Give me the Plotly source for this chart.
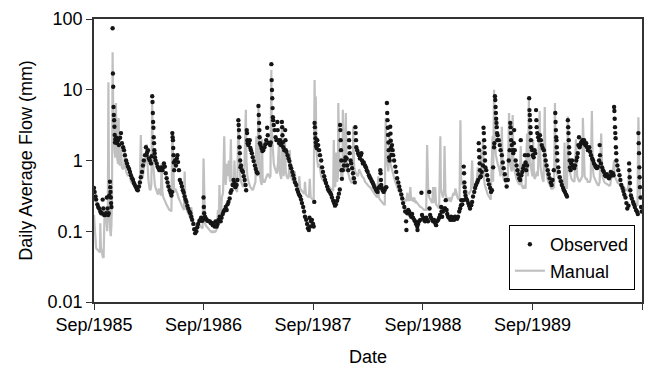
import pandas as pd
import plotly.graph_objects as go

START = "1985-09-01"

# Observed daily flow (mm): day offset from 1 Sep 1985, value
obs_day = [
    0, 2, 5, 7, 11, 14, 17, 21, 24, 27,
    29, 31, 34, 37, 40, 43, 45, 47, 49, 51,
    53, 54, 55, 56, 57, 58, 62, 63, 64, 65,
    66, 67, 68, 69, 70, 71, 74, 77, 80, 83,
    87, 90, 93, 97, 100, 103, 107, 110, 113, 117,
    120, 123, 127, 130, 133, 136, 140, 143, 146, 150,
    153, 156, 160, 163, 166, 170, 173, 175, 177, 180,
    183, 186, 190, 192, 194, 195, 196, 197, 198, 199,
    200, 201, 202, 203, 205, 209, 212, 215, 218, 221,
    224, 228, 231, 233, 236, 239, 242, 245, 248, 252,
    255, 258, 260, 261, 262, 263, 264, 265, 266, 267,
    270, 273, 276, 278, 280, 283, 286, 290, 293, 296,
    299, 302, 305, 308, 311, 314, 318, 321, 324, 327,
    331, 334, 337, 341, 344, 347, 351, 354, 357, 360,
    363, 365, 366, 367, 370, 373, 376, 379, 383, 386,
    389, 393, 396, 399, 402, 405, 409, 412, 415, 419,
    422, 425, 429, 432, 435, 439, 442, 445, 448, 452,
    455, 458, 462, 465, 468, 471, 475, 478, 481, 482,
    483, 484, 485, 486, 487, 488, 490, 493, 496, 499,
    502, 505, 507, 509, 510, 511, 512, 514, 516, 519,
    521, 523, 526, 529, 532, 536, 539, 542, 545, 548,
    549, 550, 551, 552, 553, 555, 558, 561, 564, 568,
    571, 574, 577, 579, 581, 584, 587, 589, 591, 592,
    593, 594, 595, 596, 597, 599, 602, 605, 608, 611,
    612, 614, 617, 620, 623, 626, 627, 628, 629, 631,
    634, 637, 638, 639, 641, 645, 648, 651, 654, 657,
    661, 664, 667, 670, 674, 677, 680, 683, 687, 690,
    693, 697, 700, 703, 707, 710, 713, 716, 718, 720,
    723, 726, 730, 732, 734, 735, 736, 737, 738, 739,
    740, 742, 744, 747, 750, 753, 757, 760, 763, 767,
    770, 773, 777, 780, 783, 787, 790, 793, 797, 800,
    803, 806, 810, 813, 816, 819, 820, 821, 822, 823,
    824, 825, 826, 829, 833, 836, 838, 842, 844, 847,
    849, 850, 851, 852, 855, 857, 860, 863, 866, 869,
    871, 872, 873, 874, 877, 880, 883, 886, 889, 891,
    893, 896, 899, 903, 906, 909, 912, 916, 919, 922,
    926, 929, 932, 935, 939, 942, 945, 949, 952, 954,
    955, 956, 957, 959, 962, 965, 968, 971, 974, 976,
    977, 978, 979, 980, 981, 982, 983, 985, 987, 988,
    989, 990, 991, 993, 995, 997, 1000, 1004, 1007, 1010,
    1014, 1017, 1020, 1024, 1027, 1030, 1034, 1037, 1040, 1041,
    1044, 1047, 1050, 1054, 1057, 1060, 1063, 1067, 1070, 1073,
    1077, 1078, 1080, 1083, 1087, 1091, 1093, 1097, 1100, 1103,
    1107, 1110, 1113, 1117, 1118, 1120, 1123, 1127, 1130, 1133,
    1137, 1140, 1143, 1147, 1150, 1153, 1157, 1158, 1160, 1163,
    1167, 1170, 1172, 1175, 1177, 1180, 1183, 1187, 1190, 1193,
    1197, 1200, 1203, 1207, 1210, 1213, 1217, 1220, 1223, 1224,
    1227, 1230, 1232, 1233, 1234, 1235, 1236, 1238, 1240, 1243,
    1247, 1250, 1253, 1257, 1260, 1263, 1267, 1270, 1273, 1277,
    1280, 1282, 1283, 1284, 1285, 1286, 1287, 1289, 1292, 1296,
    1298, 1299, 1300, 1301, 1302, 1303, 1304, 1307, 1310, 1313,
    1316, 1320, 1323, 1326, 1330, 1333, 1334, 1336, 1337, 1338,
    1339, 1340, 1341, 1342, 1343, 1344, 1345, 1349, 1352, 1355,
    1359, 1362, 1365, 1369, 1372, 1375, 1379, 1382, 1385, 1387,
    1388, 1389, 1390, 1392, 1395, 1397, 1399, 1400, 1402, 1405,
    1408, 1411, 1414, 1417, 1420, 1422, 1424, 1427, 1430, 1433,
    1436, 1438, 1440, 1443, 1446, 1450, 1451, 1452, 1453, 1454,
    1455, 1456, 1457, 1460, 1462, 1465, 1468, 1470, 1473, 1474,
    1475, 1477, 1480, 1483, 1486, 1489, 1492, 1495, 1499, 1502,
    1505, 1508, 1512, 1515, 1518, 1522, 1525, 1528, 1532, 1537,
    1538, 1539, 1540, 1541, 1542, 1543, 1544, 1547, 1549, 1552,
    1556, 1559, 1563, 1566, 1569, 1573, 1576, 1579, 1580, 1581,
    1582, 1583, 1584, 1585, 1586, 1588, 1590, 1593, 1596, 1600,
    1603, 1607, 1610, 1612, 1614, 1616, 1618, 1620, 1623, 1627,
    1630, 1633, 1637, 1640, 1643, 1646, 1650, 1653, 1656, 1660,
    1663, 1666, 1670, 1673, 1676, 1679, 1683, 1685, 1686, 1689,
    1693, 1696, 1699, 1703, 1706, 1709, 1712, 1716, 1719, 1722,
    1726, 1729, 1731, 1733, 1734, 1735, 1736, 1737, 1738, 1739,
    1740, 1741, 1744, 1747, 1751, 1754, 1757, 1761, 1764, 1767,
    1771, 1774, 1777, 1781, 1783, 1784, 1785, 1786, 1787, 1789,
    1792, 1796, 1799, 1802, 1806, 1809, 1812, 1814, 1815, 1816,
    1817, 1818, 1819, 1821, 1823, 1825,
]
obs_val = [
    0.41, 0.36, 0.31, 0.28, 0.24, 0.22, 0.21, 0.19, 0.18, 0.18,
    0.28, 0.21, 0.17, 0.17, 0.18, 0.30, 0.21, 0.17, 0.18, 0.32,
    0.50, 0.42, 0.36, 0.30, 0.25, 0.22, 74, 17, 11, 5.7,
    4.4, 3.7, 3.0, 2.3, 1.8, 2.0, 2.1, 1.76, 1.94, 1.65,
    2.1, 2.44, 1.76, 1.54, 1.4, 1.19, 1.0, 0.91, 0.82, 0.76,
    0.69, 0.62, 0.56, 0.53, 0.48, 0.45, 0.42, 0.39, 0.38, 0.43,
    0.49, 0.58, 0.69, 0.85, 1.0, 1.19, 1.54, 1.19, 1.3, 1.4,
    1.07, 1.0, 0.91, 1.15, 8.1, 6.7, 4.7, 3.5, 2.9, 2.13,
    1.76, 1.4, 1.27, 1.11, 1.0, 0.91, 0.82, 0.78, 0.73, 0.78,
    0.8, 0.73, 0.8, 0.91, 0.82, 0.66, 0.56, 0.49, 0.43, 0.38,
    0.35, 0.32, 0.36, 2.44, 2.13, 1.94, 1.5, 1.19, 0.94, 0.73,
    1.0, 0.85, 1.07, 1.19, 0.95, 0.73, 0.53, 0.48, 0.43, 0.38,
    0.35, 0.31, 0.28, 0.26, 0.23, 0.21, 0.19, 0.18, 0.16, 0.145,
    0.127, 0.107, 0.094, 0.1, 0.114, 0.127, 0.14, 0.145, 0.155, 0.14,
    0.145, 0.3, 0.22, 0.18, 0.16, 0.15, 0.145, 0.14, 0.138, 0.138,
    0.131, 0.131, 0.122, 0.127, 0.117, 0.138, 0.117, 0.127, 0.145, 0.16,
    0.138, 0.155, 0.175, 0.19, 0.2, 0.22, 0.2, 0.24, 0.26, 0.29,
    0.35, 0.38, 0.45, 0.53, 0.48, 0.42, 0.45, 0.53, 3.72, 3.17,
    2.69, 2.13, 1.54, 1.27, 1.0, 0.8, 0.85, 0.73, 0.69, 0.6,
    0.53, 0.45, 0.38, 2.69, 2.44, 1.94, 1.76, 1.65, 1.76, 1.94,
    1.5, 1.4, 1.27, 1.11, 0.98, 0.85, 0.76, 0.69, 0.66, 5.9,
    4.4, 3.4, 2.69, 2.13, 1.76, 1.65, 1.5, 1.36, 1.4, 1.54,
    1.7, 1.94, 2.9, 2.28, 1.76, 1.76, 1.65, 1.8, 23, 13.7,
    9.9, 7.6, 5.5, 4.1, 3.72, 3.17, 2.69, 2.13, 1.94, 3.5,
    2.69, 1.94, 1.76, 1.94, 1.65, 3.5, 2.96, 2.28, 1.8, 1.54,
    1.4, 2.69, 1.94, 1.4, 1.33, 1.19, 1.07, 0.98, 0.85, 0.78,
    0.69, 0.62, 0.55, 0.49, 0.45, 0.39, 0.36, 0.33, 0.31, 0.28,
    0.25, 0.22, 0.19, 0.16, 0.145, 0.127, 0.11, 0.104, 0.155, 0.117,
    0.138, 0.145, 0.127, 0.117, 0.26, 3.4, 2.96, 2.4, 2.06, 1.8,
    1.6, 1.5, 1.94, 1.65, 1.4, 1.19, 1.0, 0.8, 0.69, 0.6,
    0.53, 0.48, 0.43, 0.39, 0.37, 0.35, 0.33, 0.3, 0.27, 0.25,
    0.23, 0.24, 0.27, 0.3, 0.34, 0.39, 3.17, 2.69, 1.94, 1.4,
    1.0, 0.73, 0.55, 0.73, 0.85, 1.0, 1.1, 1.07, 0.85, 0.73,
    2.44, 1.94, 1.54, 1.27, 1.0, 0.91, 0.78, 0.66, 0.56, 0.49,
    2.96, 2.44, 1.94, 1.54, 1.4, 1.27, 1.19, 1.07, 1.19, 1.27,
    1.0, 0.91, 0.94, 0.85, 0.8, 0.73, 0.69, 0.62, 0.58, 0.55,
    0.51, 0.48, 0.45, 0.42, 0.39, 0.37, 0.36, 0.41, 0.43, 0.73,
    0.66, 0.53, 0.45, 0.41, 0.38, 0.36, 0.38, 0.41, 0.42, 6.5,
    4.7, 3.72, 2.9, 2.3, 1.8, 1.4, 1.1, 1.0, 3.0, 2.4,
    1.9, 1.5, 1.2, 1.65, 1.4, 1.19, 1.0, 0.82, 0.69, 0.56,
    0.49, 0.43, 0.38, 0.33, 0.29, 0.25, 0.22, 0.19, 0.138, 0.104,
    0.18, 0.2, 0.19, 0.17, 0.16, 0.175, 0.155, 0.145, 0.138, 0.127,
    0.117, 0.104, 0.127, 0.138, 0.145, 0.35, 0.17, 0.155, 0.145, 0.138,
    0.155, 0.145, 0.138, 0.36, 0.21, 0.17, 0.155, 0.145, 0.138, 0.145,
    0.131, 0.122, 0.138, 0.145, 0.155, 0.17, 0.22, 0.19, 0.16, 0.19,
    0.21, 0.21, 0.275, 0.2, 0.175, 0.16, 0.155, 0.145, 0.16, 0.145,
    0.155, 0.145, 0.16, 0.155, 0.15, 0.16, 0.19, 0.21, 0.234, 0.275,
    0.24, 0.275, 0.82, 0.66, 0.49, 0.42, 0.36, 0.32, 0.29, 0.275,
    0.25, 0.23, 0.21, 0.234, 0.26, 0.31, 0.36, 0.41, 0.45, 0.49,
    0.53, 1.76, 1.4, 1.11, 0.91, 0.73, 0.58, 0.6, 0.69, 0.85,
    2.9, 2.44, 1.94, 1.54, 1.27, 1.0, 0.8, 0.73, 0.62, 0.53,
    0.46, 0.41, 0.36, 0.38, 0.8, 1.54, 1.76, 8.1, 7.15, 5.7,
    4.7, 3.9, 3.4, 2.96, 2.44, 1.94, 2.28, 1.94, 1.65, 1.4,
    1.19, 0.94, 0.78, 0.64, 0.53, 0.43, 0.53, 1.0, 1.4, 3.4,
    2.96, 2.44, 1.94, 1.65, 1.4, 1.27, 1.76, 2.69, 1.4, 1.0,
    0.85, 0.73, 0.64, 0.56, 0.53, 1.94, 0.62, 0.69, 0.78, 0.85,
    1.19, 0.94, 0.73, 0.85, 1.19, 7.6, 5.16, 4.4, 3.72, 2.96,
    2.44, 1.94, 1.54, 1.4, 1.19, 1.11, 1.4, 1.27, 5.16, 3.72,
    2.96, 2.44, 2.13, 1.94, 2.28, 1.94, 1.65, 1.5, 1.4, 1.19,
    1.0, 0.85, 0.73, 0.64, 0.56, 0.49, 0.45, 0.53, 0.73, 4.7,
    3.5, 2.69, 2.13, 1.94, 1.54, 1.27, 1.0, 0.8, 0.69, 0.58,
    0.51, 0.45, 0.41, 0.38, 0.36, 0.33, 0.31, 3.72, 2.96, 2.44,
    1.94, 1.54, 1.27, 1.0, 0.8, 0.73, 0.91, 1.0, 0.85, 0.78,
    0.85, 1.0, 1.11, 1.27, 1.65, 2.13, 1.54, 1.65, 1.8, 1.94,
    1.76, 1.94, 1.65, 1.76, 1.54, 1.4, 1.54, 1.33, 1.19, 1.07,
    1.0, 0.91, 0.85, 0.8, 0.78, 0.82, 1.0, 1.65, 1.19, 0.91,
    0.8, 0.73, 0.69, 0.62, 0.6, 0.64, 0.6, 0.56, 0.6, 0.69,
    0.62, 0.66, 0.62, 5.7, 5.0, 3.9, 2.96, 2.44, 2.06, 1.54,
    1.27, 1.0, 0.85, 0.73, 0.62, 0.53, 0.45, 0.41, 0.37, 0.33,
    0.3, 0.25, 0.21, 0.23, 0.91, 0.73, 0.58, 0.48, 0.38, 0.32,
    0.29, 0.26, 0.24, 0.22, 0.2, 0.19, 0.175, 2.44, 1.76, 1.27,
    0.8, 0.58, 0.42, 0.3, 0.22, 0.19,
]

# Manual (modelled) daily flow (mm)
man_day = [
    0, 2, 4, 7, 11, 14, 17, 20, 21, 23,
    26, 29, 32, 34, 35, 37, 39, 41, 44, 46,
    48, 50, 52, 54, 56, 58, 60, 62, 63, 65,
    67, 69, 71, 73, 76, 78, 80, 82, 85, 88,
    90, 93, 97, 100, 103, 107, 110, 113, 117, 120,
    123, 127, 130, 133, 136, 140, 143, 146, 150, 153,
    156, 160, 163, 166, 170, 173, 175, 178, 181, 185,
    188, 191, 194, 196, 200, 203, 206, 210, 213, 216,
    219, 223, 225, 228, 231, 235, 238, 241, 245, 248,
    251, 254, 258, 261, 264, 267, 271, 274, 277, 281,
    284, 287, 290, 293, 297, 300, 302, 305, 309, 312,
    315, 319, 322, 324, 327, 330, 334, 337, 340, 344,
    347, 350, 353, 357, 360, 362, 365, 367, 370, 373,
    376, 380, 383, 386, 390, 393, 396, 400, 403, 406,
    410, 413, 416, 418, 420, 423, 426, 430, 432, 434,
    436, 439, 443, 446, 449, 453, 456, 459, 463, 466,
    468, 471, 474, 477, 481, 484, 487, 490, 494, 497,
    500, 503, 506, 508, 511, 515, 518, 521, 525, 528,
    531, 535, 538, 541, 544, 548, 550, 553, 556, 559,
    560, 562, 566, 569, 572, 576, 579, 582, 586, 588,
    591, 592, 596, 599, 602, 606, 609, 613, 616, 618,
    621, 624, 626, 629, 632, 636, 639, 642, 646, 649,
    652, 656, 659, 662, 666, 669, 672, 676, 679, 682,
    684, 687, 691, 694, 697, 701, 703, 706, 709, 712,
    716, 719, 722, 726, 729, 732, 735, 737, 739, 741,
    744, 747, 751, 754, 757, 760, 764, 767, 770, 774,
    777, 780, 784, 787, 790, 793, 797, 799, 801, 804,
    806, 810, 813, 814, 818, 821, 824, 828, 829, 833,
    836, 839, 842, 846, 849, 852, 856, 859, 862, 864,
    867, 870, 873, 877, 880, 883, 887, 890, 893, 897,
    900, 903, 906, 910, 913, 916, 920, 923, 926, 930,
    933, 936, 939, 943, 947, 949, 953, 956, 959, 963,
    966, 969, 972, 974, 978, 981, 984, 988, 991, 994,
    998, 1001, 1004, 1008, 1011, 1014, 1018, 1021, 1024, 1028,
    1031, 1034, 1037, 1041, 1044, 1047, 1051, 1054, 1057, 1061,
    1064, 1067, 1071, 1074, 1077, 1080, 1084, 1087, 1090, 1094,
    1097, 1100, 1104, 1107, 1110, 1114, 1117, 1120, 1123, 1127,
    1130, 1133, 1137, 1140, 1143, 1147, 1150, 1154, 1156, 1160,
    1163, 1166, 1168, 1171, 1174, 1178, 1181, 1185, 1188, 1191,
    1194, 1198, 1201, 1204, 1208, 1211, 1215, 1218, 1221, 1223,
    1226, 1230, 1233, 1236, 1240, 1243, 1246, 1250, 1253, 1256,
    1260, 1263, 1266, 1269, 1273, 1276, 1279, 1283, 1286, 1289,
    1290, 1292, 1296, 1299, 1302, 1306, 1309, 1312, 1316, 1319,
    1322, 1328, 1330, 1333, 1335, 1339, 1342, 1345, 1349, 1352,
    1355, 1359, 1362, 1365, 1369, 1372, 1375, 1379, 1383, 1385,
    1389, 1392, 1395, 1398, 1402, 1405, 1408, 1412, 1415, 1418,
    1422, 1425, 1428, 1431, 1435, 1438, 1443, 1446, 1449, 1451,
    1454, 1458, 1461, 1463, 1466, 1469, 1472, 1476, 1479, 1485,
    1488, 1491, 1494, 1498, 1502, 1504, 1508, 1511, 1514, 1518,
    1521, 1524, 1528, 1533, 1536, 1538, 1541, 1545, 1548, 1551,
    1555, 1558, 1561, 1565, 1568, 1570, 1573, 1576, 1579, 1581,
    1585, 1588, 1591, 1595, 1598, 1601, 1606, 1610, 1613, 1617,
    1620, 1623, 1627, 1629, 1632, 1635, 1639, 1642, 1645, 1648,
    1652, 1655, 1659, 1662, 1665, 1669, 1672, 1675, 1679, 1682,
    1685, 1690, 1694, 1697, 1700, 1703, 1707, 1710, 1713, 1717,
    1720, 1723, 1727, 1733, 1735, 1739, 1742, 1745, 1749, 1752,
    1755, 1759, 1762, 1765, 1769, 1772, 1775, 1779, 1783, 1785,
    1789, 1792, 1795, 1799, 1802, 1805, 1809, 1811, 1814, 1816,
    1819, 1822, 1825,
]
man_val = [
    0.17, 0.12, 0.065, 0.058, 0.055, 0.054, 0.052, 0.05, 0.13, 0.06,
    0.047, 0.044, 0.042, 0.1, 0.17, 0.14, 0.2, 0.12, 0.1, 0.15,
    12.8, 0.4, 0.15, 0.1, 0.085, 0.12, 0.3, 34, 12, 2.7,
    1.6, 1.3, 1.1, 6.5, 1.2, 1.0, 0.9, 4.0, 0.85, 0.9,
    1.5, 0.8, 0.75, 0.8, 1.3, 0.7, 0.65, 0.6, 0.7, 0.55,
    0.5, 0.48, 0.46, 0.45, 0.44, 0.42, 0.4, 0.42, 0.45, 0.5,
    2.3, 0.55, 0.6, 0.8, 0.9, 1.0, 1.7, 0.7, 0.55, 0.4,
    0.38, 0.45, 7.0, 1.0, 0.6, 0.45, 0.4, 0.35, 0.33, 0.4,
    0.35, 0.32, 0.9, 0.35, 0.3, 0.28, 0.26, 0.24, 0.22, 0.21,
    0.2, 0.2, 0.19, 2.6, 0.5, 0.35, 0.4, 0.38, 0.35, 0.3,
    0.28, 0.26, 0.24, 0.22, 0.21, 0.2, 0.7, 0.22, 0.2, 0.18,
    0.17, 0.16, 0.15, 0.22, 0.15, 0.14, 0.13, 0.125, 0.12, 0.118,
    0.115, 0.12, 0.12, 0.115, 0.11, 0.11, 1.07, 0.2, 0.13, 0.12,
    0.115, 0.11, 0.105, 0.1, 0.098, 0.1, 0.097, 0.1, 0.098, 0.1,
    0.11, 0.2, 0.14, 0.45, 0.15, 0.16, 0.3, 0.35, 1.2, 2.2,
    0.7, 0.45, 0.9, 0.6, 1.0, 0.5, 2.0, 0.45, 0.55, 0.4,
    1.0, 0.42, 0.38, 0.36, 3.5, 0.9, 0.6, 0.5, 0.45, 0.42,
    0.5, 2.0, 5.2, 1.0, 0.6, 0.5, 0.45, 0.42, 0.4, 0.38,
    0.4, 0.45, 0.5, 2.2, 0.6, 5.5, 1.2, 0.6, 0.5, 0.45,
    2.0, 0.55, 0.5, 0.5, 0.55, 0.6, 0.65, 0.62, 0.58, 0.6,
    19, 3.0, 1.2, 0.9, 0.8, 0.7, 0.65, 0.9, 1.8, 0.7,
    0.6, 0.55, 3.0, 0.8, 0.6, 2.0, 0.7, 0.6, 0.55, 0.6,
    1.4, 0.6, 0.55, 0.52, 0.5, 0.7, 0.48, 0.45, 0.42, 0.4,
    0.6, 0.4, 0.38, 0.36, 0.35, 0.34, 0.5, 0.33, 0.32, 0.31,
    0.3, 0.55, 0.3, 0.29, 0.28, 0.27, 13.7, 3.0, 8.0, 1.5,
    1.0, 0.8, 0.9, 0.7, 0.6, 0.55, 0.52, 0.5, 0.48, 0.46,
    0.45, 0.43, 0.42, 0.41, 0.4, 0.38, 0.37, 1.95, 0.5, 0.42,
    1.3, 0.5, 0.6, 6.5, 1.0, 0.8, 0.6, 0.55, 5.2, 0.9,
    0.7, 4.7, 1.0, 0.7, 0.6, 0.55, 0.5, 0.48, 0.6, 3.0,
    0.8, 0.7, 0.65, 0.62, 0.6, 0.75, 0.7, 0.65, 0.6, 0.58,
    0.55, 0.5, 0.48, 0.46, 0.45, 0.43, 0.42, 0.4, 0.38, 0.36,
    0.35, 0.33, 0.31, 0.3, 0.6, 0.3, 0.28, 0.27, 0.26, 0.25,
    0.24, 0.24, 4.0, 1.2, 0.9, 0.7, 2.5, 0.9, 0.8, 0.7,
    0.6, 0.55, 0.5, 0.45, 0.4, 0.38, 0.36, 0.34, 0.32, 0.3,
    0.29, 0.28, 0.27, 0.27, 0.35, 0.28, 0.27, 0.42, 0.27, 0.3,
    0.26, 0.3, 0.25, 0.26, 0.25, 0.24, 0.23, 0.22, 0.22, 0.21,
    0.21, 0.2, 0.2, 0.2, 1.65, 0.35, 0.3, 0.28, 0.26, 0.25,
    0.42, 0.25, 0.42, 0.24, 0.23, 0.22, 0.21, 2.2, 0.4, 0.33,
    0.3, 0.35, 1.6, 0.35, 0.3, 0.28, 0.27, 0.3, 0.26, 0.28,
    0.3, 0.35, 0.32, 0.4, 0.35, 0.3, 0.28, 0.3, 3.7, 0.6,
    0.45, 0.5, 0.42, 0.4, 0.38, 0.36, 0.35, 0.34, 0.36, 0.38,
    1.0, 0.42, 0.4, 0.45, 0.5, 0.55, 0.8, 0.6, 0.55, 0.6,
    1.4, 0.6, 2.0, 0.6, 0.45, 0.4, 0.36, 0.33, 0.31, 0.3,
    0.28, 2.2, 0.5, 10, 2.0, 1.2, 1.0, 0.9, 0.8, 0.7,
    0.6, 3.0, 0.7, 0.55, 0.5, 0.48, 0.55, 0.6, 4.7, 1.0,
    0.8, 0.7, 4.4, 0.8, 0.7, 0.6, 0.55, 0.5, 0.48, 0.45,
    1.6, 0.45, 0.42, 0.4, 0.45, 0.4, 2.4, 0.6, 7.0, 1.2,
    0.9, 0.7, 0.6, 2.0, 0.6, 0.55, 0.6, 0.7, 0.6, 5.0,
    0.8, 0.6, 0.55, 0.5, 5.7, 0.9, 0.65, 0.55, 0.5, 0.45,
    0.42, 0.4, 0.4, 0.42, 6.5, 1.0, 0.7, 0.6, 0.55, 0.5,
    0.48, 0.46, 0.45, 0.42, 1.8, 0.45, 0.42, 0.4, 4.2, 0.9,
    0.7, 0.6, 0.55, 0.52, 0.5, 0.5, 2.0, 0.6, 0.55, 0.5,
    0.52, 0.55, 0.6, 4.0, 0.8, 0.6, 0.55, 0.55, 0.5, 0.5,
    0.5, 0.55, 5.0, 0.8, 0.6, 0.55, 0.5, 0.48, 0.45, 0.45,
    0.5, 2.4, 0.6, 0.52, 0.5, 0.48, 0.47, 0.46, 0.45, 0.44,
    0.45, 0.55, 0.6, 1.0, 0.6, 0.55, 0.5, 0.48, 0.47, 0.45,
    0.45, 0.44, 0.43, 0.42, 0.4, 0.4, 0.38, 0.37, 0.7, 0.35,
    0.33, 0.3, 0.29, 0.27, 0.26, 0.25, 0.24, 0.23, 4.1, 0.6,
    0.35, 0.3, 0.28,
]

tick_dates = ["1985-09-01", "1986-09-01", "1987-09-01", "1988-09-01", "1989-09-01", "1990-09-01"]
tick_text = ["Sep/1985", "Sep/1986", "Sep/1987", "Sep/1988", "Sep/1989", ""]
y_ticks = [0.01, 0.1, 1, 10, 100]
y_text = ["0.01", "0.1", "1", "10", "100"]

start = pd.Timestamp(START)
obs_x = start + pd.to_timedelta(obs_day, unit="D")
man_x = start + pd.to_timedelta(man_day, unit="D")

FONT = "Liberation Sans, Arial, sans-serif"
FS = 18

fig = go.Figure()
fig.add_trace(go.Scatter(
    x=man_x, y=man_val, mode="lines", name="Manual",
    line=dict(color="#c0c0c0", width=2.2),
))
fig.add_trace(go.Scatter(
    x=obs_x, y=obs_val, mode="markers", name="Observed",
    marker=dict(color="#151515", size=4.4, symbol="circle"),
))

fig.update_layout(
    width=649, height=369,
    margin=dict(l=94, r=5, t=19, b=67),
    paper_bgcolor="white", plot_bgcolor="white",
    font=dict(family=FONT, size=FS, color="black"),
    showlegend=True,
    legend=dict(
        x=0.987, y=0.042, xanchor="right", yanchor="bottom",
        bgcolor="white", bordercolor="black", borderwidth=1,
        font=dict(size=FS), traceorder="reversed",
        itemwidth=30, tracegroupgap=0,
    ),
)
fig.update_xaxes(
    range=[tick_dates[0], tick_dates[-1]],
    tickvals=tick_dates, ticktext=tick_text,
    ticks="outside", ticklen=6, tickcolor="#333", tickwidth=1.3,
    showline=True, linecolor="#333", linewidth=1.5, mirror=True,
    showgrid=False, zeroline=False,
    title=dict(text="Date", font=dict(size=FS), standoff=16),
    tickfont=dict(size=FS),
)
fig.update_yaxes(
    type="log", range=[-2, 2],
    tickvals=y_ticks, ticktext=y_text,
    ticks="outside", ticklen=6, tickcolor="#333", tickwidth=1.3,
    showline=True, linecolor="#333", linewidth=1.5, mirror=True,
    showgrid=False, zeroline=False,
    title=dict(text="Daily Average Flow (mm)", font=dict(size=FS), standoff=10),
    tickfont=dict(size=FS),
)

fig.write_html("out.html")
